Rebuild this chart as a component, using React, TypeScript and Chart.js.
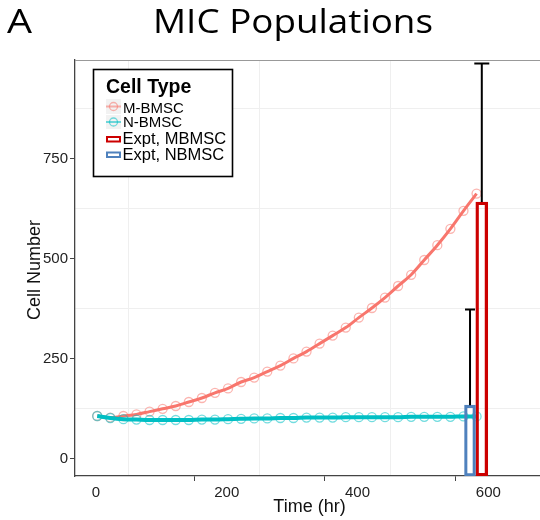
import React, { useEffect, useRef } from 'react';
import { Chart, registerables } from 'chart.js';

Chart.register(...registerables);

// ---- data ----
const TIMES = [2, 22, 42, 62, 82, 102, 122, 142, 162, 182, 202, 222, 242, 262, 282, 302, 322, 342, 362, 382, 402, 422, 442, 462, 482, 502, 522, 542, 562, 582];
const M_BMSC = [106, 102, 106, 110, 117, 124, 131, 141, 151, 164, 175, 191, 202, 217, 232, 250, 267, 287, 307, 327, 352, 376, 402, 431, 459, 496, 533, 574, 619, 662];
const N_BMSC = [106, 101, 98, 97, 96, 96, 96, 96, 97, 97, 98, 99, 100, 100, 101, 101, 102, 102, 102, 103, 103, 103, 103, 103, 104, 104, 104, 104, 105, 105];

const EXPT_LABELS = ['Expt, NBMSC', 'Expt, MBMSC'];
const EXPT_TIMES = [572, 590];
const EXPT_MEANS = [133, 641];
const EXPT_ERR = [239, 346];

const X_MAJOR = [0, 200, 400, 600];
const X_MINOR = [100, 300, 500];
const Y_MAJOR = [0, 250, 500, 750];
const Y_MINOR = [125, 375, 625, 875];
const X_RANGE = [-32, 679];
const Y_RANGE = [-44, 996];

const SERIES_LABELS = ['M-BMSC', 'N-BMSC'];
const TITLE = 'MIC Populations';
const PANEL = 'A';
const X_TITLE = 'Time (hr)';
const Y_TITLE = 'Cell Number';
const LEGEND_TITLE = 'Cell Type';

// ---- styles ----
const SANS = '"Liberation Sans", Arial, sans-serif';
const TITLE_FONT = '"Open Sans", Lato, sans-serif';
const RED = '#F8766D';
const RED_PT = 'rgba(248,118,109,0.55)';
const CYAN = '#00BFC4';
const CYAN_PT = 'rgba(0,191,196,0.55)';
const BAR_RED = '#CC0000';
const BAR_BLUE = '#4F81BD';
const CAP_HALF = [5, 7.5];

function stretchText(ctx: any, text: string, x: number, y: number, targetW: number, align: 'left' | 'center') {
  const w = ctx.measureText(text).width;
  const sx = targetW / w;
  ctx.save();
  ctx.textAlign = 'left';
  const x0 = align === 'center' ? x - targetW / 2 : x;
  ctx.translate(x0, y);
  ctx.scale(sx, 1);
  ctx.fillText(text, 0, 0);
  ctx.restore();
}

const decor = {
  id: 'decor',
  beforeDraw(chart: any) {
    const ctx = chart.ctx;
    ctx.save();
    ctx.fillStyle = '#ffffff';
    ctx.fillRect(0, 0, chart.width, chart.height);
    ctx.restore();
  },
  afterDatasetsDraw(chart: any) {
    const ctx = chart.ctx;
    const xs = chart.scales.x;
    const ys = chart.scales.y;
    ctx.save();
    ctx.strokeStyle = '#000';
    ctx.lineWidth = 2;
    for (let i = 0; i < EXPT_TIMES.length; i++) {
      const x = xs.getPixelForValue(EXPT_TIMES[i]);
      const y0 = ys.getPixelForValue(EXPT_MEANS[i]);
      const y1 = ys.getPixelForValue(EXPT_MEANS[i] + EXPT_ERR[i]);
      ctx.beginPath();
      ctx.moveTo(x, y0);
      ctx.lineTo(x, y1);
      ctx.moveTo(x - CAP_HALF[i], y1);
      ctx.lineTo(x + CAP_HALF[i], y1);
      ctx.stroke();
    }
    ctx.restore();
  },
  afterDraw(chart: any) {
    const ctx = chart.ctx;
    const { left, right, top, bottom } = chart.chartArea;
    ctx.save();
    // top border
    ctx.strokeStyle = '#999';
    ctx.lineWidth = 1;
    ctx.beginPath();
    ctx.moveTo(left, top + 0.5);
    ctx.lineTo(right, top + 0.5);
    ctx.stroke();

    // titles
    ctx.fillStyle = '#000';
    ctx.textBaseline = 'alphabetic';
    ctx.font = `33px ${TITLE_FONT}`;
    stretchText(ctx, PANEL, 7, 33, 25, 'left');
    stretchText(ctx, TITLE, 293, 33, 280, 'center');

    // axis titles
    ctx.font = `18px ${SANS}`;
    ctx.fillStyle = '#111';
    ctx.textAlign = 'center';
    ctx.textBaseline = 'middle';
    ctx.fillText(X_TITLE, (left + right) / 2 + 2, 507);
    ctx.save();
    ctx.translate(35, (top + bottom) / 2 + 2);
    ctx.rotate(-Math.PI / 2);
    ctx.fillText(Y_TITLE, 0, 0);
    ctx.restore();

    // legend
    const bx = 93.5, by = 69.5, bw = 139, bh = 107;
    ctx.fillStyle = '#fff';
    ctx.fillRect(bx, by, bw, bh);
    ctx.strokeStyle = '#000';
    ctx.lineWidth = 1.6;
    ctx.strokeRect(bx, by, bw, bh);

    ctx.fillStyle = '#000';
    ctx.textAlign = 'left';
    ctx.textBaseline = 'alphabetic';
    ctx.font = `bold 19.5px ${SANS}`;
    ctx.fillText(LEGEND_TITLE, 106, 93);

    const lineKeys = [
      { label: SERIES_LABELS[0], line: RED, pt: RED_PT, y0: 99, y1: 114, base: 113.3 },
      { label: SERIES_LABELS[1], line: CYAN, pt: CYAN_PT, y0: 115, y1: 129, base: 127.3 },
    ];
    for (const k of lineKeys) {
      ctx.fillStyle = '#f2f2f2';
      ctx.fillRect(106, k.y0, 15, k.y1 - k.y0);
      const cy = (k.y0 + k.y1) / 2;
      ctx.strokeStyle = k.pt;
      ctx.lineWidth = 2;
      ctx.beginPath();
      ctx.moveTo(106, cy);
      ctx.lineTo(121, cy);
      ctx.stroke();
      ctx.lineWidth = 1.3;
      ctx.beginPath();
      ctx.arc(113.5, cy, 4, 0, Math.PI * 2);
      ctx.stroke();
      ctx.fillStyle = '#000';
      ctx.font = `15px ${SANS}`;
      ctx.fillText(k.label, 123, k.base);
    }
    const barKeys = [
      { label: EXPT_LABELS[1], color: BAR_RED, y0: 136, base: 144 },
      { label: EXPT_LABELS[0], color: BAR_BLUE, y0: 151.5, base: 160 },
    ];
    for (const k of barKeys) {
      ctx.strokeStyle = k.color;
      ctx.lineWidth = 2;
      ctx.strokeRect(107, k.y0 + 1, 13, 4.5);
      ctx.fillStyle = '#000';
      ctx.font = `16.5px ${SANS}`;
      ctx.fillText(k.label, 122.5, k.base);
    }
    ctx.restore();
  },
};

const zeroPad = (s: any) => {
  s.paddingLeft = 0;
  s.paddingRight = 0;
  s.paddingTop = 0;
  s.paddingBottom = 0;
};

export default function App() {
  const ref = useRef<HTMLCanvasElement | null>(null);
  useEffect(() => {
    if (!ref.current) return;
    const lineData = (ys: number[]) => TIMES.map((t, i) => ({ x: t, y: ys[i] }));
    const chart = new Chart(ref.current, {
      type: 'line',
      data: {
        datasets: [
          {
            type: 'bar',
            label: EXPT_LABELS[0],
            data: [{ x: EXPT_TIMES[0], y: [Y_RANGE[0], EXPT_MEANS[0]] }] as any,
            backgroundColor: 'rgba(0,0,0,0)',
            borderColor: BAR_BLUE,
            borderWidth: 2.5,
            borderSkipped: false,
            barThickness: 11,
            grouped: false,
            order: 0,
          } as any,
          {
            type: 'bar',
            label: EXPT_LABELS[1],
            data: [{ x: EXPT_TIMES[1], y: [Y_RANGE[0], EXPT_MEANS[1]] }] as any,
            backgroundColor: 'rgba(0,0,0,0)',
            borderColor: BAR_RED,
            borderWidth: 2.7,
            borderSkipped: false,
            barThickness: 12,
            grouped: false,
            order: 0,
          } as any,
          {
            type: 'line',
            label: SERIES_LABELS[1],
            data: lineData(N_BMSC),
            borderColor: CYAN,
            borderWidth: 4,
            cubicInterpolationMode: 'monotone',
            pointRadius: 4.5,
            pointBorderWidth: 1.3,
            pointBorderColor: CYAN_PT,
            pointBackgroundColor: 'rgba(0,0,0,0)',
            order: 1,
          },
          {
            type: 'line',
            label: SERIES_LABELS[0],
            data: lineData(M_BMSC),
            borderColor: RED,
            borderWidth: 3,
            cubicInterpolationMode: 'monotone',
            pointRadius: 4.5,
            pointBorderWidth: 1.3,
            pointBorderColor: RED_PT,
            pointBackgroundColor: 'rgba(0,0,0,0)',
            order: 2,
          },
        ],
      },
      options: {
        animation: false,
        responsive: false,
        devicePixelRatio: 1,
        layout: { autoPadding: false, padding: { top: 60, left: 0, right: 0, bottom: 0 } },
        plugins: { legend: { display: false }, title: { display: false }, tooltip: { enabled: false } },
        scales: {
          x: {
            type: 'linear',
            min: X_RANGE[0],
            max: X_RANGE[1],
            offset: false,
            afterBuildTicks: (s: any) => {
              s.ticks = [...X_MAJOR, ...X_MINOR].sort((a, b) => a - b).map((v) => ({ value: v }));
            },
            afterFit: (s: any) => { s.height = 44; zeroPad(s); },
            ticks: {
              autoSkip: false,
              maxRotation: 0,
              padding: 3,
              color: '#222',
              font: { family: SANS, size: 15 },
              callback: (v: any) => (X_MAJOR.includes(Number(v)) ? String(v) : ''),
            },
            grid: {
              color: (c: any) => (X_MINOR.includes(c.tick?.value) ? '#efefef' : 'rgba(0,0,0,0)'),
              tickColor: (c: any) => (X_MAJOR.includes(c.tick?.value) ? '#444' : 'rgba(0,0,0,0)'),
              tickLength: 5,
              lineWidth: 1,
            },
            border: { display: true, color: '#444', width: 1.3 },
          },
          y: {
            type: 'linear',
            min: Y_RANGE[0],
            max: Y_RANGE[1],
            afterBuildTicks: (s: any) => {
              s.ticks = [...Y_MAJOR, ...Y_MINOR].sort((a, b) => a - b).map((v) => ({ value: v }));
            },
            afterFit: (s: any) => { s.width = 75; zeroPad(s); },
            ticks: {
              autoSkip: false,
              padding: 2,
              color: '#222',
              font: { family: SANS, size: 15 },
              callback: (v: any) => (Y_MAJOR.includes(Number(v)) ? String(v) : ''),
            },
            grid: {
              color: (c: any) => (Y_MINOR.includes(c.tick?.value) ? '#efefef' : 'rgba(0,0,0,0)'),
              tickColor: (c: any) => (Y_MAJOR.includes(c.tick?.value) ? '#444' : 'rgba(0,0,0,0)'),
              tickLength: 5,
              lineWidth: 1,
            },
            border: { display: true, color: '#444', width: 1.3 },
          },
        },
      } as any,
      plugins: [decor],
    });
    return () => chart.destroy();
  }, []);

  return (
    <div style={{ position: 'absolute', left: 0, top: 0, width: 540, height: 520, overflow: 'hidden' }}>
      <canvas ref={ref} width={540} height={520} style={{ display: 'block' }} />
    </div>
  );
}
